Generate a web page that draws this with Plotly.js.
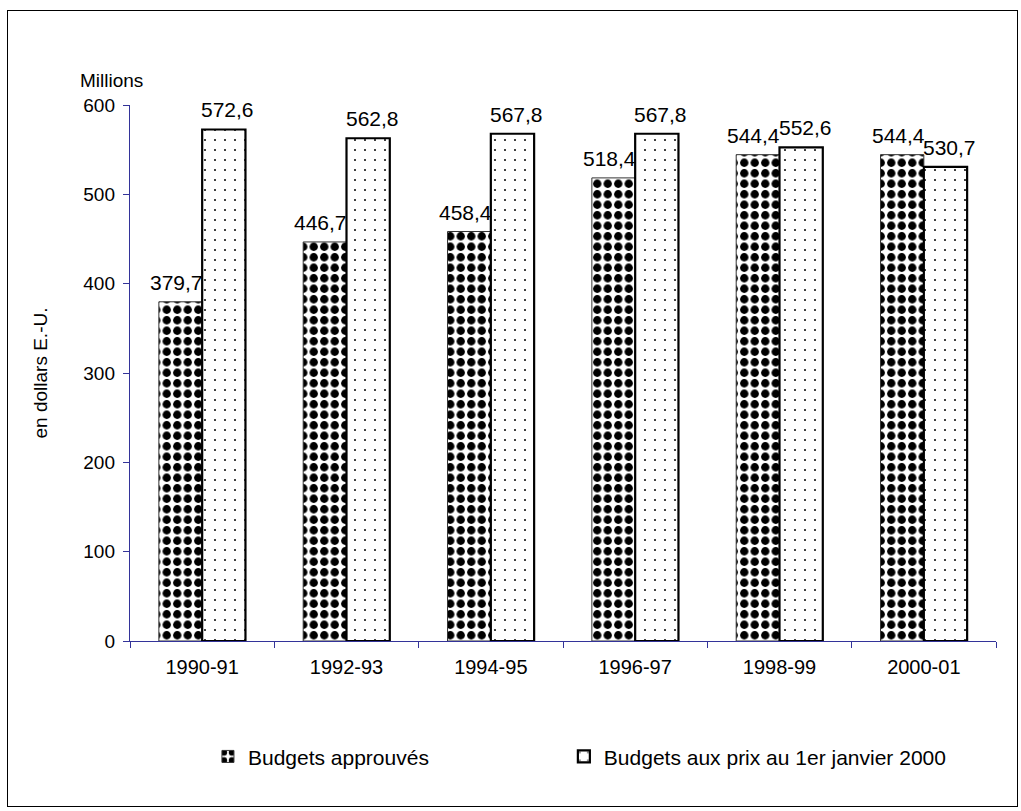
<!DOCTYPE html>
<html>
<head>
<meta charset="utf-8">
<script src="https://cdn.plot.ly/plotly-3.0.1.min.js"></script>
<style>
  html, body { margin: 0; padding: 0; background: #fff; }
  #frame { position: absolute; left: 7px; top: 10px; width: 1011px; height: 797px; border: 1.5px solid #000; box-sizing: border-box; pointer-events: none; z-index: 5; }
  #chart { position: absolute; left: 0; top: 0; width: 1021px; height: 811px; }
</style>
</head>
<body>
<div id="chart"></div>
<div id="frame"></div>
<script>
const categories = ["1990-91", "1992-93", "1994-95", "1996-97", "1998-99", "2000-01"];
const budgetsApprouves = [379.7, 446.7, 458.4, 518.4, 544.4, 544.4];
const budgetsPrix2000 = [572.6, 562.8, 567.8, 567.8, 552.6, 530.7];
const seriesNames = ["Budgets approuvés", "Budgets aux prix au 1er janvier 2000"];
const yTicks = [0, 100, 200, 300, 400, 500, 600];

const axisColor = "#333399";
const font = "Liberation Sans, Arial, sans-serif";

const plotW = 1021 - 130 - 25;
const bargap = 0.4;
const barHalf = (plotW / categories.length) * (1 - bargap) / 4;

const traces = [
  {
    type: "bar",
    name: seriesNames[0],
    legend: "legend",
    x: categories,
    y: budgetsApprouves,
    marker: {
      color: "#fff",
      pattern: { shape: ".", fgcolor: "#000", bgcolor: "#fff", size: 10.5, solidity: 0.5, fillmode: "replace" },
      line: { color: "#333", width: 1 }
    }
  },
  {
    type: "bar",
    name: seriesNames[1],
    legend: "legend2",
    x: categories,
    y: budgetsPrix2000,
    marker: {
      color: "#fff",
      pattern: { shape: ".", fgcolor: "#000", bgcolor: "#fff", size: 10, solidity: 0.03, fillmode: "replace" },
      line: { color: "#000", width: 2.2 }
    }
  }
];

const fmt = v => v.toFixed(1).replace(".", ",");
const labelAnns = [];
[budgetsApprouves, budgetsPrix2000].forEach((vals, s) => {
  vals.forEach((v, i) => {
    labelAnns.push({
      x: categories[i], y: v, xref: "x", yref: "y",
      text: fmt(v), showarrow: false,
      xanchor: "center", yanchor: "bottom",
      xshift: (s === 0 ? -1 : 1) * (barHalf + 4),
      yshift: 6,
      font: { family: font, size: 21, color: "#000" }
    });
  });
});

const legendStyle = {
  orientation: "h",
  xanchor: "left",
  y: -0.216,
  yanchor: "middle",
  font: { family: font, size: 21, color: "#000" },
  bgcolor: "rgba(0,0,0,0)"
};

const layout = {
  width: 1021,
  height: 811,
  paper_bgcolor: "#fff",
  plot_bgcolor: "#fff",
  font: { family: font, size: 19, color: "#000" },
  margin: { l: 130, r: 25, t: 105, b: 170 },
  barmode: "group",
  bargap: bargap,
  bargroupgap: 0,
  showlegend: true,
  legend: Object.assign({}, legendStyle, { x: 0.09 }),
  legend2: Object.assign({}, legendStyle, { x: 0.501 }),
  xaxis: {
    type: "category",
    showline: true,
    linecolor: axisColor,
    linewidth: 1.2,
    ticks: "outside",
    tickson: "boundaries",
    ticklen: 6,
    tickcolor: axisColor,
    ticklabelstandoff: 8,
    tickfont: { family: font, size: 20, color: "#000" },
    showgrid: false,
    zeroline: false
  },
  yaxis: {
    range: [0, 600],
    tickvals: yTicks,
    ticktext: yTicks.map(String),
    showline: true,
    linecolor: axisColor,
    linewidth: 1.2,
    ticks: "outside",
    ticklen: 6,
    tickcolor: axisColor,
    ticklabelstandoff: 4,
    tickfont: { family: font, size: 19, color: "#000" },
    showgrid: false,
    zeroline: false,
    title: { text: "en dollars E.-U.", font: { family: font, size: 19, color: "#000" }, standoff: 30 }
  },
  annotations: [
    {
      text: "Millions",
      xref: "paper", yref: "paper",
      x: -0.06, y: 1.022,
      xanchor: "left", yanchor: "bottom",
      showarrow: false,
      font: { family: font, size: 19, color: "#000" }
    }
  ].concat(labelAnns)
};

Plotly.newPlot("chart", traces, layout, { displayModeBar: false, staticPlot: true });
</script>
</body>
</html>
